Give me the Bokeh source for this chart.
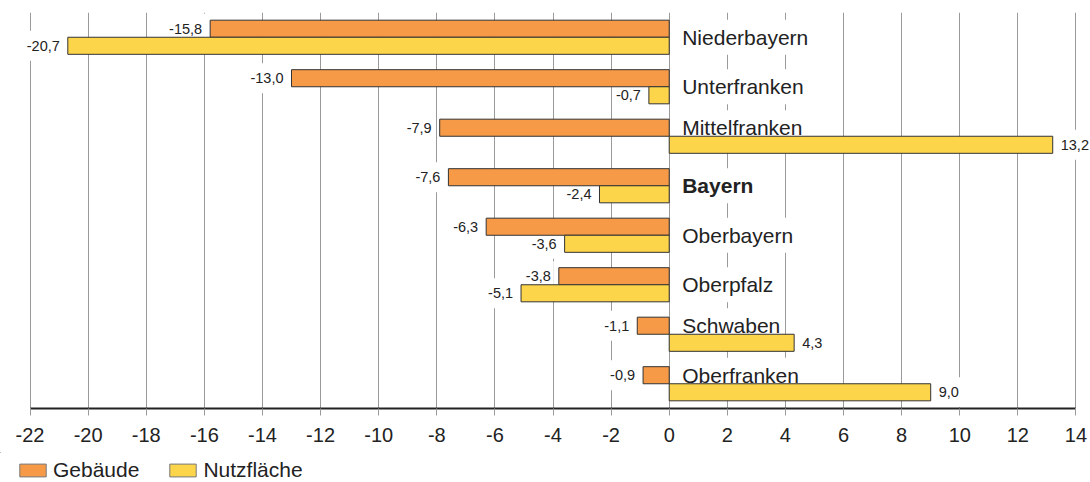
from bokeh.plotting import figure
from bokeh.models import (ColumnDataSource, Range1d, FixedTicker, Legend, LegendItem, LabelSet)
from bokeh.layouts import column
from bokeh.core.properties import value
from bokeh.transform import dodge
from bokeh.embed import file_html
from bokeh.resources import INLINE

# ---- data ----
regions = ["Niederbayern", "Unterfranken", "Mittelfranken", "Bayern",
           "Oberbayern", "Oberpfalz", "Schwaben", "Oberfranken"]
gebaeude = [-15.8, -13.0, -7.9, -7.6, -6.3, -3.8, -1.1, -0.9]
nutzflaeche = [-20.7, -0.7, 13.2, -2.4, -3.6, -5.1, 4.3, 9.0]
tick_values = [-22, -20, -18, -16, -14, -12, -10, -8, -6, -4, -2, 0, 2, 4, 6, 8, 10, 12, 14]
series_names = ["Gebäude", "Nutzfläche"]

# ---- style ----
FONT = "Liberation Sans"
C_GEB = "#F69A48"
C_NUTZ = "#FDD54B"
TXT = "#222222"
BAR_H = 0.345
OFF = BAR_H / 2
X_MIN, X_MAX = tick_values[0], tick_values[-1]

def fmt(v):
    return f"{v:.1f}".replace(".", ",")

idx = list(range(len(regions)))
src = ColumnDataSource(dict(idx=idx, region=regions, geb=gebaeude, nutz=nutzflaeche,
                            zero=[0] * len(idx),
                            lab_y=[i - OFF if n > 0 else i for i, n in zip(idx, nutzflaeche)],
                            weight=["bold" if r == "Bayern" else "normal" for r in regions]))

# frame extends a little past the first/last tick so the outer value labels are not
# clipped; the axis line itself is bounded to the tick range
p = figure(width=1090, height=452, output_backend="svg", toolbar_location=None,
           x_range=Range1d(X_MIN - 0.5, X_MAX + 0.5),
           y_range=Range1d(len(regions) - 0.5, -0.5),
           y_axis_location=None, min_border_left=15, min_border_right=0,
           min_border_top=12, min_border_bottom=44)
p.frame_align = False
p.outline_line_color = None
p.background_fill_color = "white"
p.ygrid.visible = False
p.xgrid.grid_line_color = "#9a9a9a"
p.xgrid.grid_line_width = 1
p.xaxis.bounds = (X_MIN, X_MAX)
p.xaxis.ticker = FixedTicker(ticks=tick_values)
p.xaxis.major_label_overrides = {t: str(t) for t in tick_values}
p.xaxis.axis_line_color = TXT
p.xaxis.axis_line_width = 2
p.xaxis.major_tick_line_color = "#9a9a9a"
p.xaxis.major_tick_out = 7
p.xaxis.major_tick_in = 0
p.xaxis.minor_tick_line_color = None
p.xaxis.major_label_text_font = FONT
p.xaxis.major_label_text_font_size = "20px"
p.xaxis.major_label_text_color = TXT
p.xaxis.major_label_standoff = 12

GAP = 8
VPAD, HPAD = 10, 3
VAL_SIZE = "14.5px"
CAT_SIZE = "21px"

# ---- value labels: white boxes (under bars) + texts (annotations) ----
def value_labels(vals, dy):
    for sign, align, xo in ((-1, "right", -GAP), (1, "left", GAP)):
        d = {"x": [], "y": [], "t": []}
        for i, v in zip(idx, vals):
            if (v < 0 and sign < 0) or (v >= 0 and sign > 0):
                d["x"].append(v); d["y"].append(i + dy); d["t"].append(fmt(v))
        if not d["x"]:
            continue
        s = ColumnDataSource(d)
        p.text(x="x", y="y", text="t", source=s,
               text_align=align, text_baseline="middle", x_offset=xo - sign * HPAD,
               text_font=value(FONT), text_font_size=value(VAL_SIZE), text_alpha=0,
               background_fill_color="white",
               padding=dict(left=HPAD, right=HPAD, top=VPAD, bottom=VPAD))
        p.add_layout(LabelSet(x="x", y="y", text="t", source=s,
                              text_align=align, text_baseline="middle", x_offset=xo,
                              text_font=value(FONT), text_font_size=value(VAL_SIZE),
                              text_color=TXT))

value_labels(gebaeude, -OFF)
value_labels(nutzflaeche, OFF)

CAT_X = 13
p.text(x="zero", y="lab_y", text="region", source=src, x_offset=CAT_X - 4,
       text_align="left", text_baseline="middle", text_font=value(FONT),
       text_font_size=value(CAT_SIZE), text_font_style="weight", text_alpha=0,
       background_fill_color="white", padding=dict(left=4, right=4, top=6, bottom=6))

for w in ("normal", "bold"):
    sub = {k: [] for k in ("x", "y", "t")}
    for i, r in enumerate(regions):
        if src.data["weight"][i] == w:
            sub["x"].append(0); sub["y"].append(src.data["lab_y"][i]); sub["t"].append(r)
    p.add_layout(LabelSet(x="x", y="y", text="t", source=ColumnDataSource(sub),
                          x_offset=CAT_X, text_align="left", text_baseline="middle",
                          text_font=value(FONT), text_font_size=value(CAT_SIZE),
                          text_font_style=value(w), text_color=TXT))

# ---- bars ----
bar_style = dict(line_color="#333333", line_width=1)
r1 = p.hbar(y=dodge("idx", -OFF, range=p.y_range), left=0, right="geb", height=BAR_H,
            source=src, fill_color=C_GEB, **bar_style)
r2 = p.hbar(y=dodge("idx", OFF, range=p.y_range), left=0, right="nutz", height=BAR_H,
            source=src, fill_color=C_NUTZ, **bar_style)

# ---- legend strip (separate small figure below the chart) ----
lp = figure(width=1090, height=30, output_backend="svg", toolbar_location=None,
            x_axis_location=None, y_axis_location=None, min_border=0,
            x_range=Range1d(0, 1), y_range=Range1d(0, 1))
lp.frame_align = False
lp.outline_line_color = None
lp.grid.visible = False
# one far off-screen row per swatch so the legend has a glyph to draw
swatch = ColumnDataSource(dict(y=[50], left=[-60], right=[-50]))
l1 = lp.hbar(y="y", left="left", right="right", height=1, source=swatch, fill_color=C_GEB,
             line_color="#777777", line_width=1)
l2 = lp.hbar(y="y", left="left", right="right", height=1, source=swatch, fill_color=C_NUTZ,
             line_color="#777777", line_width=1)
legend = Legend(items=[LegendItem(label=series_names[0], renderers=[l1]),
                       LegendItem(label=series_names[1], renderers=[l2])],
                location=(16, 0), orientation="horizontal",
                glyph_width=33, glyph_height=16, label_standoff=4, spacing=27,
                padding=0, margin=0, border_line_color=None, background_fill_alpha=0,
                label_text_font=FONT, label_text_font_size="21px", label_text_color=TXT)
lp.add_layout(legend)

open("out.html", "w").write(file_html(column(p, lp, spacing=0), INLINE))
